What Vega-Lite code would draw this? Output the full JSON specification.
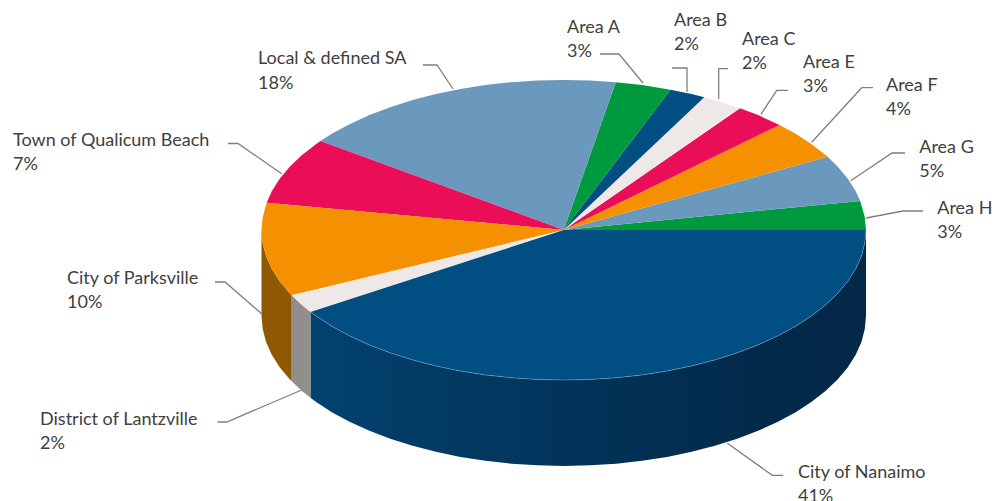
{
"$schema":"https://vega.github.io/schema/vega-lite/v6.json",
"width":994,"height":501,"padding":0,
"autosize":{"type":"none"},
"background":"white",
"config":{"view":{"stroke":null}},
"datasets":{
"leaders":[
{"s":"A","n":0,"u":0.1199,"v":1.1733},{"s":"A","n":1,"u":0.1828,"v":1.1733},{"s":"A","n":2,"u":0.2622,"v":0.98},
{"s":"B","n":0,"u":0.3581,"v":1.08},{"s":"B","n":1,"u":0.4078,"v":1.08},{"s":"B","n":2,"u":0.4078,"v":0.92},
{"s":"C","n":0,"u":0.5434,"v":1.0753},{"s":"C","n":1,"u":0.5127,"v":1.0753},{"s":"C","n":2,"u":0.5127,"v":0.8713},
{"s":"E","n":0,"u":0.7419,"v":0.9313},{"s":"E","n":1,"u":0.7045,"v":0.9313},{"s":"E","n":2,"u":0.6526,"v":0.7713},
{"s":"F","n":0,"u":1.0232,"v":0.9487},{"s":"F","n":1,"u":0.9858,"v":0.9487},{"s":"F","n":2,"u":0.8203,"v":0.5847},
{"s":"G","n":0,"u":1.129,"v":0.5133},{"s":"G","n":1,"u":1.086,"v":0.5133},{"s":"G","n":2,"u":0.9494,"v":0.3287},
{"s":"H","n":0,"u":1.1886,"v":0.1267},{"s":"H","n":1,"u":1.1224,"v":0.1267},{"s":"H","n":2,"u":1,"v":0.08},
{"s":"Nan","n":0,"u":0.7264,"v":-1.6353},{"s":"Nan","n":1,"u":0.69,"v":-1.6353},{"s":"Nan","n":2,"u":0.5411,"v":-1.422},
{"s":"Loc","n":0,"u":-0.4657,"v":1.1},{"s":"Loc","n":1,"u":-0.4194,"v":1.1},{"s":"Loc","n":2,"u":-0.3664,"v":0.94},
{"s":"Town","n":0,"u":-1.1108,"v":0.5767},{"s":"Town","n":1,"u":-1.0777,"v":0.5767},{"s":"Town","n":2,"u":-0.9322,"v":0.3733},
{"s":"Par","n":0,"u":-1.1539,"v":-0.3467},{"s":"Par","n":1,"u":-1.1207,"v":-0.3467},{"s":"Par","n":2,"u":-0.9983,"v":-0.56},
{"s":"Lan","n":0,"u":-1.1456,"v":-1.28},{"s":"Lan","n":1,"u":-1.1151,"v":-1.28},{"s":"Lan","n":2,"u":-0.867,"v":-1.0667}
],
"labels":[
{"t":"Area A","u":0.0108,"v":1.3133},{"t":"3%","u":0.0108,"v":1.1533},
{"t":"Area B","u":0.3648,"v":1.36},{"t":"2%","u":0.3648,"v":1.2},
{"t":"Area C","u":0.5897,"v":1.2333},{"t":"2%","u":0.5897,"v":1.0733},
{"t":"Area E","u":0.7916,"v":1.08},{"t":"3%","u":0.7916,"v":0.92},
{"t":"Area F","u":1.0662,"v":0.9267},{"t":"4%","u":1.0662,"v":0.7667},
{"t":"Area G","u":1.1762,"v":0.5133},{"t":"5%","u":1.1762,"v":0.3533},
{"t":"Area H","u":1.2358,"v":0.1067},{"t":"3%","u":1.2358,"v":-0.0533},
{"t":"City of Nanaimo","u":0.775,"v":-1.6533},{"t":"41%","u":0.775,"v":-1.8133},
{"t":"Local & defined SA","u":-1.0116,"v":1.1067},{"t":"18%","u":-1.0116,"v":0.94},
{"t":"Town of Qualicum Beach","u":-1.8221,"v":0.56},{"t":"7%","u":-1.8221,"v":0.4},
{"t":"City of Parksville","u":-1.6435,"v":-0.36},{"t":"10%","u":-1.6435,"v":-0.52},
{"t":"District of Lantzville","u":-1.7328,"v":-1.3},{"t":"2%","u":-1.7328,"v":-1.46}
],
"faces":[
{"f":"Parksville wall","n":0,"u":-1,"v":0},{"f":"Parksville wall","n":1,"u":-0.996,"v":-0.087},{"f":"Parksville wall","n":2,"u":-0.985,"v":-0.174},{"f":"Parksville wall","n":3,"u":-0.966,"v":-0.259},{"f":"Parksville wall","n":4,"u":-0.94,"v":-0.342},{"f":"Parksville wall","n":5,"u":-0.906,"v":-0.423},{"f":"Parksville wall","n":6,"u":-0.9,"v":-0.435},{"f":"Parksville wall","n":7,"u":-0.9,"v":-1.008},{"f":"Parksville wall","n":8,"u":-0.906,"v":-0.996},{"f":"Parksville wall","n":9,"u":-0.94,"v":-0.915},{"f":"Parksville wall","n":10,"u":-0.966,"v":-0.832},{"f":"Parksville wall","n":11,"u":-0.985,"v":-0.747},{"f":"Parksville wall","n":12,"u":-0.996,"v":-0.66},{"f":"Parksville wall","n":13,"u":-1,"v":-0.573},
{"f":"Lantzville wall","n":0,"u":-0.9,"v":-0.435},{"f":"Lantzville wall","n":1,"u":-0.866,"v":-0.5},{"f":"Lantzville wall","n":2,"u":-0.838,"v":-0.546},{"f":"Lantzville wall","n":3,"u":-0.838,"v":-1.119},{"f":"Lantzville wall","n":4,"u":-0.866,"v":-1.073},{"f":"Lantzville wall","n":5,"u":-0.9,"v":-1.008},
{"f":"Nanaimo wall","n":0,"u":-0.838,"v":-0.546},{"f":"Nanaimo wall","n":1,"u":-0.819,"v":-0.574},{"f":"Nanaimo wall","n":2,"u":-0.766,"v":-0.643},{"f":"Nanaimo wall","n":3,"u":-0.707,"v":-0.707},{"f":"Nanaimo wall","n":4,"u":-0.643,"v":-0.766},{"f":"Nanaimo wall","n":5,"u":-0.574,"v":-0.819},{"f":"Nanaimo wall","n":6,"u":-0.5,"v":-0.866},{"f":"Nanaimo wall","n":7,"u":-0.423,"v":-0.906},{"f":"Nanaimo wall","n":8,"u":-0.342,"v":-0.94},{"f":"Nanaimo wall","n":9,"u":-0.259,"v":-0.966},{"f":"Nanaimo wall","n":10,"u":-0.174,"v":-0.985},{"f":"Nanaimo wall","n":11,"u":-0.087,"v":-0.996},{"f":"Nanaimo wall","n":12,"u":0,"v":-1},{"f":"Nanaimo wall","n":13,"u":0.087,"v":-0.996},{"f":"Nanaimo wall","n":14,"u":0.174,"v":-0.985},{"f":"Nanaimo wall","n":15,"u":0.259,"v":-0.966},{"f":"Nanaimo wall","n":16,"u":0.342,"v":-0.94},{"f":"Nanaimo wall","n":17,"u":0.423,"v":-0.906},{"f":"Nanaimo wall","n":18,"u":0.5,"v":-0.866},{"f":"Nanaimo wall","n":19,"u":0.574,"v":-0.819},{"f":"Nanaimo wall","n":20,"u":0.643,"v":-0.766},{"f":"Nanaimo wall","n":21,"u":0.707,"v":-0.707},{"f":"Nanaimo wall","n":22,"u":0.766,"v":-0.643},{"f":"Nanaimo wall","n":23,"u":0.819,"v":-0.574},{"f":"Nanaimo wall","n":24,"u":0.866,"v":-0.5},{"f":"Nanaimo wall","n":25,"u":0.906,"v":-0.423},{"f":"Nanaimo wall","n":26,"u":0.94,"v":-0.342},{"f":"Nanaimo wall","n":27,"u":0.966,"v":-0.259},{"f":"Nanaimo wall","n":28,"u":0.985,"v":-0.174},{"f":"Nanaimo wall","n":29,"u":0.996,"v":-0.087},{"f":"Nanaimo wall","n":30,"u":1,"v":0},
{"f":"Nanaimo wall","n":31,"u":1,"v":-0.573},{"f":"Nanaimo wall","n":32,"u":0.996,"v":-0.66},{"f":"Nanaimo wall","n":33,"u":0.985,"v":-0.747},{"f":"Nanaimo wall","n":34,"u":0.966,"v":-0.832},{"f":"Nanaimo wall","n":35,"u":0.94,"v":-0.915},{"f":"Nanaimo wall","n":36,"u":0.906,"v":-0.996},{"f":"Nanaimo wall","n":37,"u":0.866,"v":-1.073},{"f":"Nanaimo wall","n":38,"u":0.819,"v":-1.147},{"f":"Nanaimo wall","n":39,"u":0.766,"v":-1.216},{"f":"Nanaimo wall","n":40,"u":0.707,"v":-1.28},{"f":"Nanaimo wall","n":41,"u":0.643,"v":-1.339},{"f":"Nanaimo wall","n":42,"u":0.574,"v":-1.392},{"f":"Nanaimo wall","n":43,"u":0.5,"v":-1.439},{"f":"Nanaimo wall","n":44,"u":0.423,"v":-1.479},{"f":"Nanaimo wall","n":45,"u":0.342,"v":-1.513},{"f":"Nanaimo wall","n":46,"u":0.259,"v":-1.539},{"f":"Nanaimo wall","n":47,"u":0.174,"v":-1.558},{"f":"Nanaimo wall","n":48,"u":0.087,"v":-1.569},{"f":"Nanaimo wall","n":49,"u":0,"v":-1.573},{"f":"Nanaimo wall","n":50,"u":-0.087,"v":-1.569},{"f":"Nanaimo wall","n":51,"u":-0.174,"v":-1.558},{"f":"Nanaimo wall","n":52,"u":-0.259,"v":-1.539},{"f":"Nanaimo wall","n":53,"u":-0.342,"v":-1.513},{"f":"Nanaimo wall","n":54,"u":-0.423,"v":-1.479},{"f":"Nanaimo wall","n":55,"u":-0.5,"v":-1.439},{"f":"Nanaimo wall","n":56,"u":-0.574,"v":-1.392},{"f":"Nanaimo wall","n":57,"u":-0.643,"v":-1.339},{"f":"Nanaimo wall","n":58,"u":-0.707,"v":-1.28},{"f":"Nanaimo wall","n":59,"u":-0.766,"v":-1.216},{"f":"Nanaimo wall","n":60,"u":-0.819,"v":-1.147},{"f":"Nanaimo wall","n":61,"u":-0.838,"v":-1.119},
{"f":"Area H","n":0,"u":0,"v":0},{"f":"Area H","n":1,"u":1,"v":0},{"f":"Area H","n":2,"u":0.996,"v":0.087},{"f":"Area H","n":3,"u":0.981,"v":0.194},
{"f":"Area G","n":0,"u":0,"v":0},{"f":"Area G","n":1,"u":0.981,"v":0.194},{"f":"Area G","n":2,"u":0.966,"v":0.259},{"f":"Area G","n":3,"u":0.94,"v":0.342},{"f":"Area G","n":4,"u":0.906,"v":0.423},{"f":"Area G","n":5,"u":0.873,"v":0.488},
{"f":"Area F","n":0,"u":0,"v":0},{"f":"Area F","n":1,"u":0.873,"v":0.488},{"f":"Area F","n":2,"u":0.866,"v":0.5},{"f":"Area F","n":3,"u":0.819,"v":0.574},{"f":"Area F","n":4,"u":0.766,"v":0.643},{"f":"Area F","n":5,"u":0.714,"v":0.7},
{"f":"Area E","n":0,"u":0,"v":0},{"f":"Area E","n":1,"u":0.714,"v":0.7},{"f":"Area E","n":2,"u":0.643,"v":0.766},{"f":"Area E","n":3,"u":0.583,"v":0.812},
{"f":"Area C","n":0,"u":0,"v":0},{"f":"Area C","n":1,"u":0.583,"v":0.812},{"f":"Area C","n":2,"u":0.53,"v":0.848},{"f":"Area C","n":3,"u":0.465,"v":0.885},
{"f":"Area B","n":0,"u":0,"v":0},{"f":"Area B","n":1,"u":0.465,"v":0.885},{"f":"Area B","n":2,"u":0.423,"v":0.906},{"f":"Area B","n":3,"u":0.353,"v":0.935},
{"f":"Area A","n":0,"u":0,"v":0},{"f":"Area A","n":1,"u":0.353,"v":0.935},{"f":"Area A","n":2,"u":0.259,"v":0.966},{"f":"Area A","n":3,"u":0.172,"v":0.985},
{"f":"Local & defined SA","n":0,"u":0,"v":0},{"f":"Local & defined SA","n":1,"u":0.172,"v":0.985},{"f":"Local & defined SA","n":2,"u":0.087,"v":0.996},{"f":"Local & defined SA","n":3,"u":0,"v":1},{"f":"Local & defined SA","n":4,"u":-0.087,"v":0.996},{"f":"Local & defined SA","n":5,"u":-0.174,"v":0.985},{"f":"Local & defined SA","n":6,"u":-0.259,"v":0.966},{"f":"Local & defined SA","n":7,"u":-0.342,"v":0.94},{"f":"Local & defined SA","n":8,"u":-0.423,"v":0.906},{"f":"Local & defined SA","n":9,"u":-0.5,"v":0.866},{"f":"Local & defined SA","n":10,"u":-0.574,"v":0.819},{"f":"Local & defined SA","n":11,"u":-0.643,"v":0.766},{"f":"Local & defined SA","n":12,"u":-0.707,"v":0.707},{"f":"Local & defined SA","n":13,"u":-0.766,"v":0.643},{"f":"Local & defined SA","n":14,"u":-0.805,"v":0.593},
{"f":"Town of Qualicum Beach","n":0,"u":0,"v":0},{"f":"Town of Qualicum Beach","n":1,"u":-0.805,"v":0.593},{"f":"Town of Qualicum Beach","n":2,"u":-0.819,"v":0.574},{"f":"Town of Qualicum Beach","n":3,"u":-0.866,"v":0.5},{"f":"Town of Qualicum Beach","n":4,"u":-0.906,"v":0.423},{"f":"Town of Qualicum Beach","n":5,"u":-0.94,"v":0.342},{"f":"Town of Qualicum Beach","n":6,"u":-0.966,"v":0.259},{"f":"Town of Qualicum Beach","n":7,"u":-0.983,"v":0.182},
{"f":"City of Parksville","n":0,"u":0,"v":0},{"f":"City of Parksville","n":1,"u":-0.983,"v":0.182},{"f":"City of Parksville","n":2,"u":-0.996,"v":0.087},{"f":"City of Parksville","n":3,"u":-1,"v":0},{"f":"City of Parksville","n":4,"u":-0.996,"v":-0.087},{"f":"City of Parksville","n":5,"u":-0.985,"v":-0.174},{"f":"City of Parksville","n":6,"u":-0.966,"v":-0.259},{"f":"City of Parksville","n":7,"u":-0.94,"v":-0.342},{"f":"City of Parksville","n":8,"u":-0.906,"v":-0.423},{"f":"City of Parksville","n":9,"u":-0.9,"v":-0.435},
{"f":"District of Lantzville","n":0,"u":0,"v":0},{"f":"District of Lantzville","n":1,"u":-0.9,"v":-0.435},{"f":"District of Lantzville","n":2,"u":-0.866,"v":-0.5},{"f":"District of Lantzville","n":3,"u":-0.838,"v":-0.546},
{"f":"City of Nanaimo","n":0,"u":0,"v":0},{"f":"City of Nanaimo","n":1,"u":-0.838,"v":-0.546},{"f":"City of Nanaimo","n":2,"u":-0.819,"v":-0.574},{"f":"City of Nanaimo","n":3,"u":-0.766,"v":-0.643},{"f":"City of Nanaimo","n":4,"u":-0.707,"v":-0.707},{"f":"City of Nanaimo","n":5,"u":-0.643,"v":-0.766},{"f":"City of Nanaimo","n":6,"u":-0.574,"v":-0.819},{"f":"City of Nanaimo","n":7,"u":-0.5,"v":-0.866},{"f":"City of Nanaimo","n":8,"u":-0.423,"v":-0.906},{"f":"City of Nanaimo","n":9,"u":-0.342,"v":-0.94},{"f":"City of Nanaimo","n":10,"u":-0.259,"v":-0.966},{"f":"City of Nanaimo","n":11,"u":-0.174,"v":-0.985},{"f":"City of Nanaimo","n":12,"u":-0.087,"v":-0.996},{"f":"City of Nanaimo","n":13,"u":0,"v":-1},{"f":"City of Nanaimo","n":14,"u":0.087,"v":-0.996},{"f":"City of Nanaimo","n":15,"u":0.174,"v":-0.985},{"f":"City of Nanaimo","n":16,"u":0.259,"v":-0.966},{"f":"City of Nanaimo","n":17,"u":0.342,"v":-0.94},{"f":"City of Nanaimo","n":18,"u":0.423,"v":-0.906},{"f":"City of Nanaimo","n":19,"u":0.5,"v":-0.866},{"f":"City of Nanaimo","n":20,"u":0.574,"v":-0.819},{"f":"City of Nanaimo","n":21,"u":0.643,"v":-0.766},{"f":"City of Nanaimo","n":22,"u":0.707,"v":-0.707},{"f":"City of Nanaimo","n":23,"u":0.766,"v":-0.643},{"f":"City of Nanaimo","n":24,"u":0.819,"v":-0.574},{"f":"City of Nanaimo","n":25,"u":0.866,"v":-0.5},{"f":"City of Nanaimo","n":26,"u":0.906,"v":-0.423},{"f":"City of Nanaimo","n":27,"u":0.94,"v":-0.342},{"f":"City of Nanaimo","n":28,"u":0.966,"v":-0.259},{"f":"City of Nanaimo","n":29,"u":0.985,"v":-0.174},{"f":"City of Nanaimo","n":30,"u":0.996,"v":-0.087},{"f":"City of Nanaimo","n":31,"u":1,"v":0}
]
},
"encoding":{
"x":{"field":"u","type":"quantitative","axis":null,"scale":{"domain":[-1.8652,1.4235],"nice":false,"zero":false}},
"y":{"field":"v","type":"quantitative","axis":null,"scale":{"domain":[-1.8067,1.5333],"nice":false,"zero":false}}
},
"layer":[
{"data":{"name":"leaders"},
 "mark":{"type":"line","stroke":"#7f7f7f","strokeWidth":1.3,"clip":false},
 "encoding":{"detail":{"field":"s"},"order":{"field":"n","type":"quantitative"}}},
{"data":{"name":"faces"},
 "transform":[{"filter":{"field":"f","equal":"Nanaimo wall"}}],
 "mark":{"type":"line","strokeWidth":0,"fill":{"x1":0,"y1":0,"x2":1,"y2":0,"gradient":"linear","stops":[{"offset":0,"color":"#02426f"},{"offset":0.45,"color":"#02345b"},{"offset":0.8,"color":"#032a4b"},{"offset":1,"color":"#032848"}]}},
 "encoding":{"order":{"field":"n","type":"quantitative"}}},
{"data":{"name":"faces"},
 "transform":[{"filter":{"field":"f","oneOf":["Parksville wall","Lantzville wall","Area H","Area G","Area F","Area E","Area C","Area B","Area A","Local & defined SA","Town of Qualicum Beach","City of Parksville","District of Lantzville","City of Nanaimo"]}}],
 "mark":{"type":"line","strokeWidth":0,"filled":true},
 "encoding":{
  "fill":{"field":"f","type":"nominal","legend":null,"scale":{
   "domain":["Parksville wall","Lantzville wall","Area H","Area G","Area F","Area E","Area C","Area B","Area A","Local & defined SA","Town of Qualicum Beach","City of Parksville","District of Lantzville","City of Nanaimo"],
   "range":["#8f5903","#918e8c","#009a3e","#6b98bd","#f59100","#ea0d58","#eee9e7","#004e82","#009a3e","#6b98bd","#ea0d58","#f59100","#eee9e7","#004e82"]}},
  "order":{"field":"n","type":"quantitative"}}},
{"data":{"name":"faces"},
 "transform":[{"filter":{"field":"f","equal":"City of Nanaimo"}},{"filter":{"field":"n","gte":1}}],
 "mark":{"type":"line","stroke":"#9fb9cf","strokeWidth":0.7,"opacity":0.6},
 "encoding":{"order":{"field":"n","type":"quantitative"}}},
{"data":{"name":"labels"},
 "mark":{"type":"text","align":"left","baseline":"alphabetic","font":"Lato","fontSize":18,"color":"#404040"},
 "encoding":{"text":{"field":"t"}}}
]
}
